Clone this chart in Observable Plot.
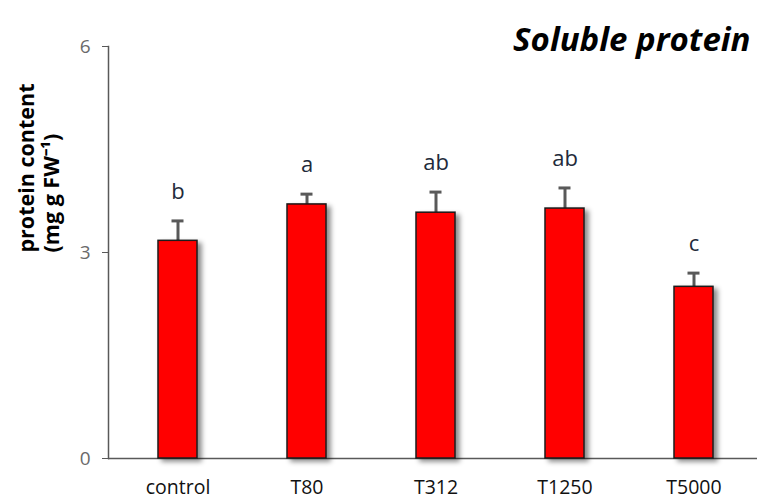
<!DOCTYPE html>
<html><head><meta charset="utf-8">
<script src="https://cdn.jsdelivr.net/npm/d3@7"></script>
<script src="https://cdn.jsdelivr.net/npm/@observablehq/plot@0.6"></script>
<style>body{margin:0;background:#fff;} svg{display:block;}</style>
</head><body><div id="chart"></div>
<script>
const categories = ["control", "T80", "T312", "T1250", "T5000"];
const means = [3.17, 3.70, 3.58, 3.64, 2.50];
const errors = [0.29, 0.15, 0.30, 0.30, 0.20];
const letters = ["b", "a", "ab", "ab", "c"];
const yTicks = [0, 3, 6];
const title = "Soluble protein";
const yLabel1 = "protein content";
const yLabel2 = "(mg g FW\u207B\u00B9)";

const data = categories.map((c, i) => ({cat: c, mean: means[i], se: errors[i], top: means[i] + errors[i], letter: letters[i]}));
const font = "'Open Sans', sans-serif";

const plot = Plot.plot({
  width: 760, height: 500,
  marginLeft: 111, marginRight: 0, marginTop: 46, marginBottom: 42,
  style: {fontFamily: font, background: "#fff"},
  x: {domain: categories, paddingInner: 0.7, paddingOuter: 0.35, label: null},
  y: {domain: [0, 6], label: null},
  marks: [
    Plot.frame({anchor: "left", dx: -3, stroke: "#595959", strokeWidth: 1.5}),
    Plot.ruleY([0], {stroke: "#595959", strokeWidth: 1.5, dx: -3}),
    Plot.axisY({ticks: yTicks, tickFormat: "d", tickSize: 6, dx: -3, tickPadding: 12, stroke: "#595959", fill: "#6a6a6a", fontSize: 19, label: null}),
    Plot.axisX({tickSize: 0, tickPadding: 22, fontSize: 19.5, fill: "#111", label: null}),
    Plot.ruleX(data, {x: "cat", y1: "mean", y2: "top", stroke: "#595959", strokeWidth: 3}),
    Plot.tickY(data, {x: "cat", y: "top", stroke: "#595959", strokeWidth: 3, inset: 13.5}),
    Plot.barY(data, {x: "cat", y: "mean", fill: "#ff0000", stroke: "#1a1a1a", strokeWidth: 1.5}),
    Plot.text(data, {x: "cat", y: "top", text: "letter", dy: -29, fontSize: 22, fill: "#222a3a"}),
    Plot.text([title], {frameAnchor: "top-right", dx: -10, dy: -19, fontSize: 33, fontWeight: "bold", fontStyle: "italic", textAnchor: "end", fill: "#000"}),
    Plot.text([yLabel1], {frameAnchor: "left", dx: -84, rotate: -90, fontSize: 21.5, fontWeight: "bold", fill: "#000"}),
    Plot.text([yLabel2], {frameAnchor: "left", dx: -59, rotate: -90, fontSize: 21.5, fontWeight: "bold", fill: "#000"})
  ]
});

const svg = d3.select(plot);
const defs = svg.insert("defs", ":first-child");
const f = defs.append("filter").attr("id", "shadow").attr("x", "-30%").attr("y", "-10%").attr("width", "180%").attr("height", "130%");
f.append("feDropShadow").attr("dx", 4).attr("dy", 3).attr("stdDeviation", 2.5).attr("flood-color", "#000").attr("flood-opacity", 0.45);
svg.selectAll("g[aria-label='bar']").attr("filter", "url(#shadow)");

document.getElementById("chart").append(plot);
</script>
</body></html>
